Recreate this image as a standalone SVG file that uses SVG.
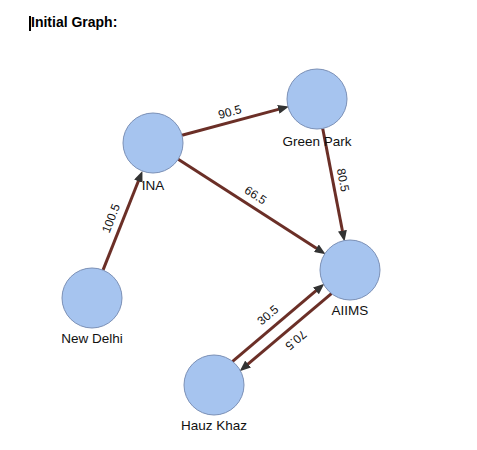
<svg xmlns="http://www.w3.org/2000/svg" width="477" height="450" viewBox="0 0 477 450">
<style>
.node{fill:#a6c4ef;stroke:#7b90b6;stroke-width:1}
.lbl{font-family:"Liberation Sans",Arial,sans-serif;font-size:13.5px;fill:#111;text-anchor:middle}
.edge{stroke:#6b2f27;stroke-width:3;fill:none;marker-end:url(#arrow)}
.elbl{font-family:"Liberation Sans",Arial,sans-serif;font-size:12px;fill:#111;text-anchor:middle}
.title{font-family:"Liberation Sans",Arial,sans-serif;font-size:14px;font-weight:bold;fill:#000}
</style>
<defs>
<marker id="arrow" markerUnits="userSpaceOnUse" viewBox="0 0 11 9" markerWidth="11" markerHeight="9" refX="1" refY="4.5" orient="auto">
<path d="M0,0 L11,4.5 L0,9 z" fill="#333"/>
</marker>
</defs>
<rect width="477" height="450" fill="#fff"/>
<rect x="29" y="16" width="2" height="15" fill="#000"/>
<text class="title" x="31" y="27">Initial Graph:</text>
<g id="connectors">
<line class="edge" x1="103" y1="270.1" x2="138.7" y2="180.3"/>
<line class="edge" x1="182" y1="135.2" x2="279.3" y2="109.1"/>
<line class="edge" x1="178.2" y1="159.3" x2="317.2" y2="248.8"/>
<line class="edge" x1="322.7" y1="128.5" x2="342.6" y2="231.7"/>
<line class="edge" x1="232.6" y1="361.4" x2="316.7" y2="290.2"/>
<line class="edge" x1="331.4" y1="293.6" x2="247.3" y2="364.7"/>
<text class="elbl" transform="translate(110.7,218.3) rotate(-68.5)" y="4.3">100.5</text>
<text class="elbl" transform="translate(229.7,111.7) rotate(-15)" y="4.3">90.5</text>
<text class="elbl" transform="translate(255.7,195) rotate(32.8)" y="4.3">66.5</text>
<text class="elbl" transform="translate(343.3,180) rotate(79.1)" y="4.3">80.5</text>
<text class="elbl" transform="translate(267.7,315) rotate(-40.2)" y="4.3">30.5</text>
<text class="elbl" transform="translate(296,340.3) rotate(139.8)" y="4.3">70.5</text>
</g>
<g id="node-ina">
<circle class="node" cx="153" cy="143" r="30"/>
<text class="lbl" x="153" y="190">INA</text>
</g>
<g id="node-greenpark">
<circle class="node" cx="317" cy="99" r="30"/>
<text class="lbl" x="317" y="146">Green Park</text>
</g>
<g id="node-aiims">
<circle class="node" cx="350" cy="270" r="30"/>
<text class="lbl" x="350" y="315">AIIMS</text>
</g>
<g id="node-newdelhi">
<circle class="node" cx="92" cy="298" r="30"/>
<text class="lbl" x="92" y="343">New Delhi</text>
</g>
<g id="node-hauzkhaz">
<circle class="node" cx="214" cy="385" r="30"/>
<text class="lbl" x="214" y="430">Hauz Khaz</text>
</g>
</svg>
